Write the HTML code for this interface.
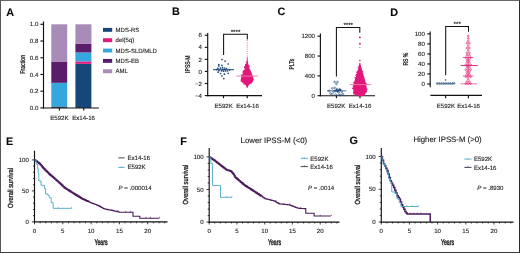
<!DOCTYPE html>
<html><head><meta charset="utf-8"><style>
html,body{margin:0;padding:0;background:#fff;}
body{width:520px;height:253px;overflow:hidden;position:relative;}
svg{display:block;font-family:"Liberation Sans", sans-serif;filter:blur(0.35px);text-rendering:geometricPrecision;}
text{stroke:#1c1c1c;stroke-width:0.12px;}
.bd{position:absolute;left:0;top:0;width:518px;height:251px;border-style:solid;border-width:1px;border-color:#666 #2a2a2a #3a3a3a #555;}
</style></head><body>
<svg width="520" height="253" viewBox="0 0 520 253" font-family='"Liberation Sans", sans-serif'>
<rect x="0" y="0" width="520" height="253" fill="#fff"/>
<text x="6.30" y="15.60" font-size="10.8" text-anchor="start" font-weight="bold" fill="#0a0a0a" >A</text>
<rect x="51.30" y="106.40" width="15.90" height="1.50" fill="#17477a"/>
<rect x="51.30" y="82.82" width="15.90" height="23.58" fill="#35a7df"/>
<rect x="51.30" y="61.50" width="15.90" height="21.32" fill="#5b1d6b"/>
<rect x="51.30" y="24.30" width="15.90" height="37.20" fill="#a98bb9"/>
<rect x="75.40" y="63.80" width="16.00" height="44.10" fill="#17477a"/>
<rect x="75.40" y="61.42" width="16.00" height="2.38" fill="#e2177c"/>
<rect x="75.40" y="52.47" width="16.00" height="8.95" fill="#35a7df"/>
<rect x="75.40" y="43.61" width="16.00" height="8.86" fill="#5b1d6b"/>
<rect x="75.40" y="24.30" width="16.00" height="19.31" fill="#a98bb9"/>
<line x1="43.50" y1="21.50" x2="43.50" y2="108.48" stroke="#111" stroke-width="1.15"/>
<line x1="40.40" y1="107.90" x2="43.50" y2="107.90" stroke="#111" stroke-width="1.15"/>
<text x="38.30" y="110.05" font-size="6.1" text-anchor="end" font-weight="normal" fill="#1c1c1c" >0.0</text>
<line x1="40.40" y1="91.18" x2="43.50" y2="91.18" stroke="#111" stroke-width="1.15"/>
<text x="38.30" y="93.33" font-size="6.1" text-anchor="end" font-weight="normal" fill="#1c1c1c" >0.2</text>
<line x1="40.40" y1="74.46" x2="43.50" y2="74.46" stroke="#111" stroke-width="1.15"/>
<text x="38.30" y="76.61" font-size="6.1" text-anchor="end" font-weight="normal" fill="#1c1c1c" >0.4</text>
<line x1="40.40" y1="57.74" x2="43.50" y2="57.74" stroke="#111" stroke-width="1.15"/>
<text x="38.30" y="59.89" font-size="6.1" text-anchor="end" font-weight="normal" fill="#1c1c1c" >0.6</text>
<line x1="40.40" y1="41.02" x2="43.50" y2="41.02" stroke="#111" stroke-width="1.15"/>
<text x="38.30" y="43.17" font-size="6.1" text-anchor="end" font-weight="normal" fill="#1c1c1c" >0.8</text>
<line x1="40.40" y1="24.30" x2="43.50" y2="24.30" stroke="#111" stroke-width="1.15"/>
<text x="38.30" y="26.45" font-size="6.1" text-anchor="end" font-weight="normal" fill="#1c1c1c" >1.0</text>
<line x1="43.00" y1="107.95" x2="98.90" y2="107.95" stroke="#111" stroke-width="1.15"/>
<line x1="59.40" y1="107.90" x2="59.40" y2="110.50" stroke="#111" stroke-width="1.15"/>
<line x1="83.75" y1="107.90" x2="83.75" y2="110.50" stroke="#111" stroke-width="1.15"/>
<text x="59.40" y="119.60" font-size="6.1" text-anchor="middle" font-weight="normal" fill="#1c1c1c" >E592K</text>
<text x="83.60" y="119.60" font-size="6.1" text-anchor="middle" font-weight="normal" fill="#1c1c1c" >Ex14-16</text>
<text transform="translate(22.10,64.30) rotate(-90) scale(0.74,1)" x="0" y="2.52" font-size="7.0" text-anchor="middle" fill="#1c1c1c" style="stroke-width:0.3px">Fraction</text>
<rect x="103.00" y="27.90" width="9.20" height="3.90" fill="#17477a"/>
<text x="115.60" y="31.95" font-size="6.0" text-anchor="start" font-weight="normal" fill="#1c1c1c" >MDS-RS</text>
<rect x="103.00" y="38.25" width="9.20" height="3.90" fill="#e2177c"/>
<text x="115.60" y="42.30" font-size="6.0" text-anchor="start" font-weight="normal" fill="#1c1c1c" >del(5q)</text>
<rect x="103.00" y="48.60" width="9.20" height="3.90" fill="#35a7df"/>
<text x="115.60" y="52.65" font-size="6.0" text-anchor="start" font-weight="normal" fill="#1c1c1c" >MDS-SLD/MLD</text>
<rect x="103.00" y="58.95" width="9.20" height="3.90" fill="#5b1d6b"/>
<text x="115.60" y="63.00" font-size="6.0" text-anchor="start" font-weight="normal" fill="#1c1c1c" >MDS-EB</text>
<rect x="103.00" y="69.30" width="9.20" height="3.90" fill="#a98bb9"/>
<text x="115.60" y="73.35" font-size="6.0" text-anchor="start" font-weight="normal" fill="#1c1c1c" >AML</text>
<text x="171.90" y="15.40" font-size="10.8" text-anchor="start" font-weight="bold" fill="#0a0a0a" >B</text>
<line x1="207.70" y1="33.00" x2="207.70" y2="96.17" stroke="#111" stroke-width="1.15"/>
<line x1="204.80" y1="35.27" x2="207.70" y2="35.27" stroke="#111" stroke-width="1.15"/>
<text x="201.90" y="37.42" font-size="6.1" text-anchor="end" font-weight="normal" fill="#1c1c1c" >6</text>
<line x1="204.80" y1="47.33" x2="207.70" y2="47.33" stroke="#111" stroke-width="1.15"/>
<text x="201.90" y="49.48" font-size="6.1" text-anchor="end" font-weight="normal" fill="#1c1c1c" >4</text>
<line x1="204.80" y1="59.39" x2="207.70" y2="59.39" stroke="#111" stroke-width="1.15"/>
<text x="201.90" y="61.54" font-size="6.1" text-anchor="end" font-weight="normal" fill="#1c1c1c" >2</text>
<line x1="204.80" y1="71.45" x2="207.70" y2="71.45" stroke="#111" stroke-width="1.15"/>
<text x="201.90" y="73.60" font-size="6.1" text-anchor="end" font-weight="normal" fill="#1c1c1c" >0</text>
<line x1="204.80" y1="83.51" x2="207.70" y2="83.51" stroke="#111" stroke-width="1.15"/>
<text x="201.90" y="85.66" font-size="6.1" text-anchor="end" font-weight="normal" fill="#1c1c1c" >−2</text>
<line x1="204.80" y1="95.57" x2="207.70" y2="95.57" stroke="#111" stroke-width="1.15"/>
<text x="201.90" y="97.72" font-size="6.1" text-anchor="end" font-weight="normal" fill="#1c1c1c" >−4</text>
<line x1="207.20" y1="95.60" x2="262.00" y2="95.60" stroke="#111" stroke-width="1.15"/>
<line x1="223.50" y1="95.60" x2="223.50" y2="98.20" stroke="#111" stroke-width="1.15"/>
<line x1="247.20" y1="95.60" x2="247.20" y2="98.20" stroke="#111" stroke-width="1.15"/>
<text x="223.60" y="107.60" font-size="6.1" text-anchor="middle" font-weight="normal" fill="#1c1c1c" >E592K</text>
<text x="247.50" y="107.60" font-size="6.1" text-anchor="middle" font-weight="normal" fill="#1c1c1c" >Ex14-16</text>
<text transform="translate(187.00,64.20) rotate(-90) scale(0.72,1)" x="0" y="2.52" font-size="7.0" text-anchor="middle" fill="#1c1c1c" style="stroke-width:0.3px">IPSS-M</text>
<path d="M223.6,55.0 V34.3 H247.3 V39.5" stroke="#111" stroke-width="1.05" fill="none" />
<text x="235.50" y="33.60" font-size="6.2" text-anchor="middle" font-weight="normal" fill="#1c1c1c" >****</text>
<circle cx="221.9" cy="59.6" r="0.85" fill="#1a4576"/>
<circle cx="225.1" cy="61.1" r="0.85" fill="#1a4576"/>
<circle cx="228.2" cy="64.0" r="0.85" fill="#1a4576"/>
<circle cx="218.8" cy="64.6" r="0.85" fill="#1a4576"/>
<circle cx="218.8" cy="65.9" r="0.85" fill="#1a4576"/>
<circle cx="222.0" cy="65.4" r="0.85" fill="#1a4576"/>
<circle cx="218.1" cy="72.2" r="0.85" fill="#1a4576"/>
<circle cx="220.6" cy="73.5" r="0.85" fill="#1a4576"/>
<circle cx="224.4" cy="74.2" r="0.85" fill="#1a4576"/>
<circle cx="228.2" cy="73.3" r="0.85" fill="#1a4576"/>
<circle cx="221.9" cy="76.0" r="0.85" fill="#1a4576"/>
<circle cx="223.8" cy="78.6" r="0.85" fill="#1a4576"/>
<circle cx="220.5" cy="68.2" r="0.85" fill="#1a4576"/>
<circle cx="222.5" cy="67.6" r="0.85" fill="#1a4576"/>
<circle cx="224.5" cy="68.0" r="0.85" fill="#1a4576"/>
<circle cx="226.5" cy="68.6" r="0.85" fill="#1a4576"/>
<circle cx="221.5" cy="70.8" r="0.85" fill="#1a4576"/>
<circle cx="223.5" cy="71.2" r="0.85" fill="#1a4576"/>
<circle cx="225.5" cy="70.8" r="0.85" fill="#1a4576"/>
<circle cx="227.5" cy="71.0" r="0.85" fill="#1a4576"/>
<circle cx="219.0" cy="70.6" r="0.85" fill="#1a4576"/>
<circle cx="229.5" cy="70.0" r="0.85" fill="#1a4576"/>
<circle cx="216.5" cy="69.6" r="0.85" fill="#1a4576"/>
<circle cx="223.0" cy="69.4" r="0.85" fill="#1a4576"/>
<circle cx="225.0" cy="69.5" r="0.85" fill="#1a4576"/>
<circle cx="218.0" cy="68.4" r="0.85" fill="#1a4576"/>
<line x1="213.00" y1="69.70" x2="234.00" y2="69.70" stroke="#1a4576" stroke-width="1.0"/>
<path d="M246.85,57.00 L246.60,62.00 L245.90,64.50 L244.80,68.60 L243.20,72.80 L241.60,76.10 L240.70,79.40 L241.80,82.20 L244.40,84.00 L246.00,85.50 L246.70,87.70 L247.70,87.70 L248.40,85.50 L250.00,84.00 L252.60,82.20 L253.70,79.40 L252.80,76.10 L251.20,72.80 L249.60,68.60 L248.50,64.50 L247.80,62.00 L247.55,57.00 Z" stroke="none" stroke-width="0" fill="#e2177c" />
<circle cx="251.15" cy="72.88" r="0.7" fill="#e2177c"/>
<circle cx="245.43" cy="66.37" r="0.7" fill="#e2177c"/>
<circle cx="243.19" cy="72.90" r="0.7" fill="#e2177c"/>
<circle cx="244.12" cy="84.01" r="0.7" fill="#e2177c"/>
<circle cx="249.36" cy="65.98" r="0.7" fill="#e2177c"/>
<circle cx="243.64" cy="71.93" r="0.7" fill="#e2177c"/>
<circle cx="245.55" cy="64.61" r="0.7" fill="#e2177c"/>
<circle cx="243.44" cy="71.02" r="0.7" fill="#e2177c"/>
<circle cx="245.00" cy="66.82" r="0.7" fill="#e2177c"/>
<circle cx="243.22" cy="71.91" r="0.7" fill="#e2177c"/>
<circle cx="250.77" cy="83.42" r="0.7" fill="#e2177c"/>
<circle cx="241.07" cy="81.02" r="0.7" fill="#e2177c"/>
<circle cx="247.58" cy="62.12" r="0.7" fill="#e2177c"/>
<circle cx="250.29" cy="70.90" r="0.7" fill="#e2177c"/>
<circle cx="244.61" cy="67.56" r="0.7" fill="#e2177c"/>
<circle cx="246.16" cy="62.09" r="0.7" fill="#e2177c"/>
<circle cx="244.88" cy="66.77" r="0.7" fill="#e2177c"/>
<circle cx="245.63" cy="65.13" r="0.7" fill="#e2177c"/>
<circle cx="241.87" cy="75.46" r="0.7" fill="#e2177c"/>
<circle cx="243.49" cy="71.36" r="0.7" fill="#e2177c"/>
<circle cx="245.91" cy="65.42" r="0.7" fill="#e2177c"/>
<circle cx="241.82" cy="75.04" r="0.7" fill="#e2177c"/>
<circle cx="247.20" cy="40.5" r="0.5" fill="#e2177c" opacity="0.8"/>
<circle cx="247.20" cy="42.7" r="0.5" fill="#e2177c" opacity="0.8"/>
<circle cx="247.20" cy="44.9" r="0.5" fill="#e2177c" opacity="0.8"/>
<circle cx="247.20" cy="47.1" r="0.5" fill="#e2177c" opacity="0.8"/>
<circle cx="247.20" cy="49.3" r="0.5" fill="#e2177c" opacity="0.8"/>
<circle cx="247.20" cy="51.5" r="0.5" fill="#e2177c" opacity="0.8"/>
<circle cx="247.20" cy="53.7" r="0.5" fill="#e2177c" opacity="0.8"/>
<circle cx="247.20" cy="55.9" r="0.5" fill="#e2177c" opacity="0.8"/>
<line x1="236.50" y1="76.10" x2="258.00" y2="76.10" stroke="#f07aa8" stroke-width="0.9"/>
<text x="277.60" y="15.40" font-size="10.8" text-anchor="start" font-weight="bold" fill="#0a0a0a" >C</text>
<line x1="320.40" y1="33.40" x2="320.40" y2="96.28" stroke="#111" stroke-width="1.15"/>
<line x1="317.50" y1="95.70" x2="320.40" y2="95.70" stroke="#111" stroke-width="1.15"/>
<text x="315.00" y="97.85" font-size="6.1" text-anchor="end" font-weight="normal" fill="#1c1c1c" >0</text>
<line x1="317.50" y1="75.87" x2="320.40" y2="75.87" stroke="#111" stroke-width="1.15"/>
<text x="315.00" y="78.02" font-size="6.1" text-anchor="end" font-weight="normal" fill="#1c1c1c" >400</text>
<line x1="317.50" y1="56.03" x2="320.40" y2="56.03" stroke="#111" stroke-width="1.15"/>
<text x="315.00" y="58.18" font-size="6.1" text-anchor="end" font-weight="normal" fill="#1c1c1c" >800</text>
<line x1="317.50" y1="36.20" x2="320.40" y2="36.20" stroke="#111" stroke-width="1.15"/>
<text x="315.00" y="38.35" font-size="6.1" text-anchor="end" font-weight="normal" fill="#1c1c1c" >1200</text>
<line x1="319.90" y1="95.70" x2="375.00" y2="95.70" stroke="#111" stroke-width="1.15"/>
<line x1="336.40" y1="95.70" x2="336.40" y2="98.30" stroke="#111" stroke-width="1.15"/>
<line x1="360.00" y1="95.70" x2="360.00" y2="98.30" stroke="#111" stroke-width="1.15"/>
<text x="336.10" y="107.70" font-size="6.1" text-anchor="middle" font-weight="normal" fill="#1c1c1c" >E592K</text>
<text x="360.00" y="107.70" font-size="6.1" text-anchor="middle" font-weight="normal" fill="#1c1c1c" >Ex14-16</text>
<text transform="translate(291.20,64.20) rotate(-90) scale(0.72,1)" x="0" y="2.52" font-size="7.0" text-anchor="middle" fill="#1c1c1c" style="stroke-width:0.3px">PLTs</text>
<path d="M336.4,76.5 V27.5 H359.8 V32.8" stroke="#111" stroke-width="1.05" fill="none" />
<text x="348.20" y="26.90" font-size="6.2" text-anchor="middle" font-weight="normal" fill="#1c1c1c" >****</text>
<circle cx="334.6" cy="81.9" r="0.85" fill="none" stroke="#1a4576" stroke-width="0.6"/>
<circle cx="337.5" cy="81.9" r="0.85" fill="none" stroke="#1a4576" stroke-width="0.6"/>
<circle cx="336.4" cy="84" r="0.85" fill="none" stroke="#1a4576" stroke-width="0.6"/>
<circle cx="332.2" cy="88.4" r="0.85" fill="none" stroke="#1a4576" stroke-width="0.6"/>
<circle cx="334.6" cy="87.8" r="0.85" fill="none" stroke="#1a4576" stroke-width="0.6"/>
<circle cx="337" cy="89" r="0.85" fill="none" stroke="#1a4576" stroke-width="0.6"/>
<circle cx="339.9" cy="89.6" r="0.85" fill="none" stroke="#1a4576" stroke-width="0.6"/>
<circle cx="329.3" cy="90.8" r="0.85" fill="none" stroke="#1a4576" stroke-width="0.6"/>
<circle cx="333.5" cy="91.9" r="0.85" fill="none" stroke="#1a4576" stroke-width="0.6"/>
<circle cx="336" cy="91.2" r="0.85" fill="none" stroke="#1a4576" stroke-width="0.6"/>
<circle cx="338.7" cy="92.3" r="0.85" fill="none" stroke="#1a4576" stroke-width="0.6"/>
<circle cx="341.7" cy="91.9" r="0.85" fill="none" stroke="#1a4576" stroke-width="0.6"/>
<circle cx="342.9" cy="94.3" r="0.85" fill="none" stroke="#1a4576" stroke-width="0.6"/>
<circle cx="332.2" cy="94.3" r="0.85" fill="none" stroke="#1a4576" stroke-width="0.6"/>
<circle cx="335.6" cy="94.7" r="0.85" fill="none" stroke="#1a4576" stroke-width="0.6"/>
<circle cx="338.7" cy="94.7" r="0.85" fill="none" stroke="#1a4576" stroke-width="0.6"/>
<circle cx="330.5" cy="93.5" r="0.85" fill="none" stroke="#1a4576" stroke-width="0.6"/>
<circle cx="340.5" cy="95" r="0.85" fill="none" stroke="#1a4576" stroke-width="0.6"/>
<line x1="326.90" y1="90.80" x2="346.40" y2="90.80" stroke="#1a4576" stroke-width="0.7"/>
<circle cx="336.5" cy="90.0" r="0.9" fill="#1a4576"/>
<circle cx="338.5" cy="90.4" r="0.9" fill="#1a4576"/>
<circle cx="340.5" cy="90.2" r="0.9" fill="#1a4576"/>
<circle cx="335.0" cy="90.6" r="0.9" fill="#1a4576"/>
<circle cx="337.5" cy="91.3" r="0.9" fill="#1a4576"/>
<circle cx="339.5" cy="89.4" r="0.9" fill="#1a4576"/>
<path d="M359.50,62.70 L358.90,66.00 L358.00,69.60 L356.50,74.60 L354.90,79.60 L353.50,84.60 L353.10,89.00 L353.60,92.50 L355.10,95.00 L357.50,96.20 L362.30,96.20 L364.70,95.00 L366.20,92.50 L366.70,89.00 L366.30,84.60 L364.90,79.60 L363.30,74.60 L361.80,69.60 L360.90,66.00 L360.30,62.70 Z" stroke="none" stroke-width="0" fill="#e2177c" />
<circle cx="366.49" cy="84.06" r="0.7" fill="#e2177c"/>
<circle cx="353.73" cy="93.33" r="0.7" fill="#e2177c"/>
<circle cx="352.93" cy="88.50" r="0.7" fill="#e2177c"/>
<circle cx="353.55" cy="92.13" r="0.7" fill="#e2177c"/>
<circle cx="366.52" cy="91.18" r="0.7" fill="#e2177c"/>
<circle cx="353.76" cy="82.64" r="0.7" fill="#e2177c"/>
<circle cx="355.03" cy="77.84" r="0.7" fill="#e2177c"/>
<circle cx="352.86" cy="88.21" r="0.7" fill="#e2177c"/>
<circle cx="361.22" cy="68.09" r="0.7" fill="#e2177c"/>
<circle cx="359.02" cy="66.05" r="0.7" fill="#e2177c"/>
<circle cx="356.81" cy="72.25" r="0.7" fill="#e2177c"/>
<circle cx="356.43" cy="74.39" r="0.7" fill="#e2177c"/>
<circle cx="353.56" cy="85.66" r="0.7" fill="#e2177c"/>
<circle cx="354.08" cy="94.09" r="0.7" fill="#e2177c"/>
<circle cx="366.00" cy="91.92" r="0.7" fill="#e2177c"/>
<circle cx="355.49" cy="78.03" r="0.7" fill="#e2177c"/>
<circle cx="356.00" cy="75.62" r="0.7" fill="#e2177c"/>
<circle cx="353.38" cy="86.52" r="0.7" fill="#e2177c"/>
<circle cx="366.85" cy="89.74" r="0.7" fill="#e2177c"/>
<circle cx="362.59" cy="71.36" r="0.7" fill="#e2177c"/>
<circle cx="358.03" cy="67.65" r="0.7" fill="#e2177c"/>
<circle cx="363.58" cy="76.37" r="0.7" fill="#e2177c"/>
<circle cx="366.69" cy="88.84" r="0.7" fill="#e2177c"/>
<circle cx="366.24" cy="90.40" r="0.7" fill="#e2177c"/>
<circle cx="357.71" cy="71.25" r="0.7" fill="#e2177c"/>
<circle cx="362.84" cy="73.14" r="0.7" fill="#e2177c"/>
<circle cx="359.90" cy="37.4" r="0.95" fill="#e2177c"/>
<circle cx="359.90" cy="43.7" r="0.95" fill="#e2177c"/>
<circle cx="359.90" cy="47.6" r="0.5" fill="#e2177c"/>
<circle cx="359.90" cy="60.5" r="0.8" fill="#e2177c"/>
<line x1="349.70" y1="84.60" x2="371.20" y2="84.60" stroke="#f07aa8" stroke-width="0.9"/>
<text x="390.30" y="15.60" font-size="10.8" text-anchor="start" font-weight="bold" fill="#0a0a0a" >D</text>
<line x1="430.20" y1="31.50" x2="430.20" y2="87.17" stroke="#111" stroke-width="1.15"/>
<line x1="427.20" y1="84.00" x2="430.20" y2="84.00" stroke="#111" stroke-width="1.15"/>
<text x="424.80" y="86.15" font-size="6.1" text-anchor="end" font-weight="normal" fill="#1c1c1c" >0</text>
<line x1="427.20" y1="73.98" x2="430.20" y2="73.98" stroke="#111" stroke-width="1.15"/>
<text x="424.80" y="76.13" font-size="6.1" text-anchor="end" font-weight="normal" fill="#1c1c1c" >20</text>
<line x1="427.20" y1="63.96" x2="430.20" y2="63.96" stroke="#111" stroke-width="1.15"/>
<text x="424.80" y="66.11" font-size="6.1" text-anchor="end" font-weight="normal" fill="#1c1c1c" >40</text>
<line x1="427.20" y1="53.94" x2="430.20" y2="53.94" stroke="#111" stroke-width="1.15"/>
<text x="424.80" y="56.09" font-size="6.1" text-anchor="end" font-weight="normal" fill="#1c1c1c" >60</text>
<line x1="427.20" y1="43.92" x2="430.20" y2="43.92" stroke="#111" stroke-width="1.15"/>
<text x="424.80" y="46.07" font-size="6.1" text-anchor="end" font-weight="normal" fill="#1c1c1c" >80</text>
<line x1="427.20" y1="33.90" x2="430.20" y2="33.90" stroke="#111" stroke-width="1.15"/>
<text x="424.80" y="36.05" font-size="6.1" text-anchor="end" font-weight="normal" fill="#1c1c1c" >100</text>
<line x1="430.40" y1="95.30" x2="482.00" y2="95.30" stroke="#111" stroke-width="1.15"/>
<line x1="445.60" y1="95.30" x2="445.60" y2="98.20" stroke="#111" stroke-width="1.15"/>
<line x1="468.40" y1="95.30" x2="468.40" y2="98.20" stroke="#111" stroke-width="1.15"/>
<text x="445.90" y="107.70" font-size="6.1" text-anchor="middle" font-weight="normal" fill="#1c1c1c" >E592K</text>
<text x="468.60" y="107.70" font-size="6.1" text-anchor="middle" font-weight="normal" fill="#1c1c1c" >Ex14-16</text>
<text transform="translate(405.30,59.10) rotate(-90) scale(0.72,1)" x="0" y="2.52" font-size="7.0" text-anchor="middle" fill="#1c1c1c" style="stroke-width:0.3px">RS %</text>
<path d="M445.7,75.3 V26.4 H468.5 V31.8" stroke="#111" stroke-width="1.05" fill="none" />
<text x="457.20" y="26.10" font-size="6.2" text-anchor="middle" font-weight="normal" fill="#1c1c1c" >***</text>
<circle cx="437.2" cy="83.3" r="0.75" fill="none" stroke="#1a4576" stroke-width="0.6"/>
<circle cx="439.4" cy="83.3" r="0.75" fill="none" stroke="#1a4576" stroke-width="0.6"/>
<circle cx="441.6" cy="83.3" r="0.75" fill="none" stroke="#1a4576" stroke-width="0.6"/>
<circle cx="443.8" cy="83.3" r="0.75" fill="none" stroke="#1a4576" stroke-width="0.6"/>
<circle cx="446" cy="83.3" r="0.75" fill="none" stroke="#1a4576" stroke-width="0.6"/>
<circle cx="448.2" cy="83.3" r="0.75" fill="none" stroke="#1a4576" stroke-width="0.6"/>
<circle cx="450.4" cy="83.3" r="0.75" fill="none" stroke="#1a4576" stroke-width="0.6"/>
<circle cx="452.6" cy="83.3" r="0.75" fill="none" stroke="#1a4576" stroke-width="0.6"/>
<circle cx="454.2" cy="83.3" r="0.75" fill="none" stroke="#1a4576" stroke-width="0.6"/>
<circle cx="445.6" cy="80.0" r="0.7" fill="#1a4576"/>
<line x1="436.30" y1="83.90" x2="454.50" y2="83.90" stroke="#1a4576" stroke-width="0.7"/>
<circle cx="468.20" cy="36.00" r="0.85" fill="none" stroke="#e2266f" stroke-width="0.7"/>
<circle cx="468.20" cy="38.40" r="0.85" fill="none" stroke="#e2266f" stroke-width="0.7"/>
<circle cx="468.20" cy="40.80" r="0.85" fill="none" stroke="#e2266f" stroke-width="0.7"/>
<circle cx="467.00" cy="43.20" r="0.85" fill="none" stroke="#e2266f" stroke-width="0.7"/>
<circle cx="469.40" cy="43.20" r="0.85" fill="none" stroke="#e2266f" stroke-width="0.7"/>
<circle cx="468.20" cy="45.60" r="0.85" fill="none" stroke="#e2266f" stroke-width="0.7"/>
<circle cx="467.00" cy="48.00" r="0.85" fill="none" stroke="#e2266f" stroke-width="0.7"/>
<circle cx="469.40" cy="48.00" r="0.85" fill="none" stroke="#e2266f" stroke-width="0.7"/>
<circle cx="468.20" cy="50.40" r="0.85" fill="none" stroke="#e2266f" stroke-width="0.7"/>
<circle cx="467.00" cy="52.80" r="0.85" fill="none" stroke="#e2266f" stroke-width="0.7"/>
<circle cx="469.40" cy="52.80" r="0.85" fill="none" stroke="#e2266f" stroke-width="0.7"/>
<circle cx="467.00" cy="55.20" r="0.85" fill="none" stroke="#e2266f" stroke-width="0.7"/>
<circle cx="469.40" cy="55.20" r="0.85" fill="none" stroke="#e2266f" stroke-width="0.7"/>
<circle cx="465.80" cy="57.60" r="0.85" fill="none" stroke="#e2266f" stroke-width="0.7"/>
<circle cx="468.20" cy="57.60" r="0.85" fill="none" stroke="#e2266f" stroke-width="0.7"/>
<circle cx="470.60" cy="57.60" r="0.85" fill="none" stroke="#e2266f" stroke-width="0.7"/>
<circle cx="467.00" cy="60.00" r="0.85" fill="none" stroke="#e2266f" stroke-width="0.7"/>
<circle cx="469.40" cy="60.00" r="0.85" fill="none" stroke="#e2266f" stroke-width="0.7"/>
<circle cx="467.00" cy="62.40" r="0.85" fill="none" stroke="#e2266f" stroke-width="0.7"/>
<circle cx="469.40" cy="62.40" r="0.85" fill="none" stroke="#e2266f" stroke-width="0.7"/>
<circle cx="465.80" cy="64.80" r="0.85" fill="none" stroke="#e2266f" stroke-width="0.7"/>
<circle cx="468.20" cy="64.80" r="0.85" fill="none" stroke="#e2266f" stroke-width="0.7"/>
<circle cx="470.60" cy="64.80" r="0.85" fill="none" stroke="#e2266f" stroke-width="0.7"/>
<circle cx="467.00" cy="67.20" r="0.85" fill="none" stroke="#e2266f" stroke-width="0.7"/>
<circle cx="469.40" cy="67.20" r="0.85" fill="none" stroke="#e2266f" stroke-width="0.7"/>
<circle cx="465.80" cy="69.60" r="0.85" fill="none" stroke="#e2266f" stroke-width="0.7"/>
<circle cx="468.20" cy="69.60" r="0.85" fill="none" stroke="#e2266f" stroke-width="0.7"/>
<circle cx="470.60" cy="69.60" r="0.85" fill="none" stroke="#e2266f" stroke-width="0.7"/>
<circle cx="467.00" cy="72.00" r="0.85" fill="none" stroke="#e2266f" stroke-width="0.7"/>
<circle cx="469.40" cy="72.00" r="0.85" fill="none" stroke="#e2266f" stroke-width="0.7"/>
<circle cx="467.00" cy="74.40" r="0.85" fill="none" stroke="#e2266f" stroke-width="0.7"/>
<circle cx="469.40" cy="74.40" r="0.85" fill="none" stroke="#e2266f" stroke-width="0.7"/>
<circle cx="465.80" cy="76.80" r="0.85" fill="none" stroke="#e2266f" stroke-width="0.7"/>
<circle cx="468.20" cy="76.80" r="0.85" fill="none" stroke="#e2266f" stroke-width="0.7"/>
<circle cx="470.60" cy="76.80" r="0.85" fill="none" stroke="#e2266f" stroke-width="0.7"/>
<circle cx="468.20" cy="79.20" r="0.85" fill="none" stroke="#e2266f" stroke-width="0.7"/>
<circle cx="467.00" cy="81.60" r="0.85" fill="none" stroke="#e2266f" stroke-width="0.7"/>
<circle cx="469.40" cy="81.60" r="0.85" fill="none" stroke="#e2266f" stroke-width="0.7"/>
<circle cx="465.80" cy="83.60" r="0.85" fill="none" stroke="#e2266f" stroke-width="0.7"/>
<circle cx="468.20" cy="83.60" r="0.85" fill="none" stroke="#e2266f" stroke-width="0.7"/>
<circle cx="470.60" cy="83.60" r="0.85" fill="none" stroke="#e2266f" stroke-width="0.7"/>
<line x1="460.60" y1="65.50" x2="477.90" y2="65.50" stroke="#e2177c" stroke-width="0.9"/>
<line x1="462.90" y1="57.50" x2="473.50" y2="57.50" stroke="#e2177c" stroke-width="0.7"/>
<line x1="462.90" y1="75.90" x2="473.50" y2="75.90" stroke="#e2177c" stroke-width="0.7"/>
<line x1="468.20" y1="57.50" x2="468.20" y2="75.90" stroke="#e2177c" stroke-width="0.6"/>
<line x1="460.60" y1="83.80" x2="477.00" y2="83.80" stroke="#e2177c" stroke-width="0.6"/>
<text x="5.90" y="144.70" font-size="10.8" text-anchor="start" font-weight="bold" fill="#0a0a0a" >E</text>
<line x1="34.50" y1="150.70" x2="34.50" y2="222.47" stroke="#111" stroke-width="1.15"/>
<line x1="33.92" y1="221.90" x2="167.50" y2="221.90" stroke="#111" stroke-width="1.15"/>
<line x1="31.90" y1="221.90" x2="34.50" y2="221.90" stroke="#111" stroke-width="0.8"/>
<line x1="33.00" y1="215.70" x2="34.50" y2="215.70" stroke="#111" stroke-width="0.8"/>
<line x1="33.00" y1="209.50" x2="34.50" y2="209.50" stroke="#111" stroke-width="0.8"/>
<line x1="33.00" y1="203.30" x2="34.50" y2="203.30" stroke="#111" stroke-width="0.8"/>
<line x1="33.00" y1="197.10" x2="34.50" y2="197.10" stroke="#111" stroke-width="0.8"/>
<line x1="31.90" y1="190.90" x2="34.50" y2="190.90" stroke="#111" stroke-width="0.8"/>
<line x1="33.00" y1="184.70" x2="34.50" y2="184.70" stroke="#111" stroke-width="0.8"/>
<line x1="33.00" y1="178.50" x2="34.50" y2="178.50" stroke="#111" stroke-width="0.8"/>
<line x1="33.00" y1="172.30" x2="34.50" y2="172.30" stroke="#111" stroke-width="0.8"/>
<line x1="33.00" y1="166.10" x2="34.50" y2="166.10" stroke="#111" stroke-width="0.8"/>
<line x1="31.90" y1="159.90" x2="34.50" y2="159.90" stroke="#111" stroke-width="0.8"/>
<text x="28.90" y="162.05" font-size="6.1" text-anchor="end" font-weight="normal" fill="#1c1c1c" >100</text>
<text x="28.90" y="193.05" font-size="6.1" text-anchor="end" font-weight="normal" fill="#1c1c1c" >50</text>
<text x="28.90" y="224.05" font-size="6.1" text-anchor="end" font-weight="normal" fill="#1c1c1c" >0</text>
<line x1="34.50" y1="221.90" x2="34.50" y2="224.30" stroke="#111" stroke-width="0.8"/>
<text x="34.50" y="233.20" font-size="6.1" text-anchor="middle" font-weight="normal" fill="#1c1c1c" >0</text>
<line x1="40.16" y1="221.90" x2="40.16" y2="223.30" stroke="#111" stroke-width="0.8"/>
<line x1="45.82" y1="221.90" x2="45.82" y2="223.30" stroke="#111" stroke-width="0.8"/>
<line x1="51.48" y1="221.90" x2="51.48" y2="223.30" stroke="#111" stroke-width="0.8"/>
<line x1="57.14" y1="221.90" x2="57.14" y2="223.30" stroke="#111" stroke-width="0.8"/>
<line x1="62.80" y1="221.90" x2="62.80" y2="224.30" stroke="#111" stroke-width="0.8"/>
<text x="62.80" y="233.20" font-size="6.1" text-anchor="middle" font-weight="normal" fill="#1c1c1c" >5</text>
<line x1="68.46" y1="221.90" x2="68.46" y2="223.30" stroke="#111" stroke-width="0.8"/>
<line x1="74.12" y1="221.90" x2="74.12" y2="223.30" stroke="#111" stroke-width="0.8"/>
<line x1="79.78" y1="221.90" x2="79.78" y2="223.30" stroke="#111" stroke-width="0.8"/>
<line x1="85.44" y1="221.90" x2="85.44" y2="223.30" stroke="#111" stroke-width="0.8"/>
<line x1="91.10" y1="221.90" x2="91.10" y2="224.30" stroke="#111" stroke-width="0.8"/>
<text x="91.10" y="233.20" font-size="6.1" text-anchor="middle" font-weight="normal" fill="#1c1c1c" >10</text>
<line x1="96.76" y1="221.90" x2="96.76" y2="223.30" stroke="#111" stroke-width="0.8"/>
<line x1="102.42" y1="221.90" x2="102.42" y2="223.30" stroke="#111" stroke-width="0.8"/>
<line x1="108.08" y1="221.90" x2="108.08" y2="223.30" stroke="#111" stroke-width="0.8"/>
<line x1="113.74" y1="221.90" x2="113.74" y2="223.30" stroke="#111" stroke-width="0.8"/>
<line x1="119.40" y1="221.90" x2="119.40" y2="224.30" stroke="#111" stroke-width="0.8"/>
<text x="119.40" y="233.20" font-size="6.1" text-anchor="middle" font-weight="normal" fill="#1c1c1c" >15</text>
<line x1="125.06" y1="221.90" x2="125.06" y2="223.30" stroke="#111" stroke-width="0.8"/>
<line x1="130.72" y1="221.90" x2="130.72" y2="223.30" stroke="#111" stroke-width="0.8"/>
<line x1="136.38" y1="221.90" x2="136.38" y2="223.30" stroke="#111" stroke-width="0.8"/>
<line x1="142.04" y1="221.90" x2="142.04" y2="223.30" stroke="#111" stroke-width="0.8"/>
<line x1="147.70" y1="221.90" x2="147.70" y2="224.30" stroke="#111" stroke-width="0.8"/>
<text x="147.70" y="233.20" font-size="6.1" text-anchor="middle" font-weight="normal" fill="#1c1c1c" >20</text>
<line x1="153.36" y1="221.90" x2="153.36" y2="223.30" stroke="#111" stroke-width="0.8"/>
<line x1="159.02" y1="221.90" x2="159.02" y2="223.30" stroke="#111" stroke-width="0.8"/>
<line x1="164.68" y1="221.90" x2="164.68" y2="223.30" stroke="#111" stroke-width="0.8"/>
<text transform="translate(101.00,244.70) scale(0.63,1)" x="0" y="0" font-size="8.3" text-anchor="middle" fill="#1c1c1c" style="stroke-width:0.4px">Years</text>
<text transform="translate(10.20,188.00) rotate(-90) scale(0.79,1)" x="0" y="2.66" font-size="7.4" text-anchor="middle" fill="#1c1c1c" style="stroke-width:0.3px">Overall survival</text>
<path d="M34.50,159.90 H35.35 V160.48 H36.20 V161.06 H37.05 V161.69 H37.90 V162.43 H38.74 V163.16 H39.59 V163.90 H40.44 V164.79 H41.29 V165.81 H42.14 V166.83 H42.99 V167.85 H43.84 V168.78 H44.69 V169.63 H45.54 V170.47 H46.39 V171.32 H47.23 V172.16 H48.08 V173.01 H48.93 V173.86 H49.78 V174.60 H50.63 V175.34 H51.48 V176.07 H52.33 V176.81 H53.18 V177.55 H54.03 V178.28 H54.88 V179.02 H55.72 V179.76 H56.57 V180.50 H57.42 V181.24 H58.27 V181.98 H59.12 V182.72 H59.97 V183.46 H60.82 V184.30 H61.67 V185.14 H62.52 V185.98 H63.37 V186.82 H64.22 V187.62 H65.06 V188.17 H65.91 V188.71 H66.76 V189.25 H67.61 V189.79 H68.46 V190.33 H69.31 V190.87 H70.16 V191.41 H71.01 V191.96 H71.86 V192.50 H72.71 V193.04 H73.55 V193.56 H74.40 V194.08 H75.25 V194.59 H76.10 V195.11 H76.95 V195.62 H77.80 V196.14 H78.65 V196.65 H79.50 V197.17 H80.35 V197.68 H81.20 V198.20 H82.04 V198.71 H82.89 V199.11 H83.74 V199.51 H84.59 V199.91 H85.44 V200.31 H86.29 V200.71 H87.14 V201.11 H87.99 V201.51" stroke="#4a1a5b" stroke-width="1.6" fill="none" />
<path d="M87.99,201.51 H88.84 V201.91 H89.69 V202.31 H90.53 V202.71 H91.38 V203.07 H92.23 V203.36 H93.08 V203.66 H93.93 V203.95 H94.78 V204.25 H95.63 V204.54 H96.48 V204.94 H97.33 V205.35 H98.18 V205.75 H99.02 V206.15 H99.87 V206.61 H100.72 V207.06 H101.57 V207.52 H102.42 V207.97 H103.27 V208.43 H104.12 V208.88 H104.97 V209.06 H105.82 V209.23 H106.67 V209.41 H107.51 V209.58 H108.36 V209.76 H109.21 V209.93 H110.06 V210.11 H110.91 V210.29 H111.76 V210.46 H112.61 V210.64 H113.46 V210.81 H114.31 V210.99 H115.16 V211.19 H116.00 V211.40 H116.85 V211.61 H117.70 V211.81 H118.55 V212.02 H119.40 V212.23 H120.25 V212.23 H121.10 V212.23 H121.95 V212.23 H122.80 V212.23 H123.65 V212.23 H124.49 V212.23 H125.34 V212.23 H126.19 V212.23 H127.04 V212.23 H127.89 V212.23 H128.74 V212.23 H129.59 V212.23 H130.44 V212.23 H131.29 V212.23 H132.14 V212.23 H132.98 V216.32 H133.83 V216.32 H134.68 V216.32 H135.53 V216.32 H136.38 V216.32 H137.23 V216.32 H138.08 V216.32 H138.93 V216.32 H139.78 V218.18 H140.62 V218.18 H141.47 V218.18 H142.32 V218.18 H143.17 V218.18 H144.02 V218.18 H144.87 V218.18 H145.72 V218.18 H146.57 V218.18 H147.42 V218.18 H148.27 V218.18 H149.11 V218.18 H149.96 V218.18 H150.81 V218.18 H151.66 V218.18 H152.51 V218.18 H153.36 V218.18 H154.21 V218.18 H155.06 V218.18 H155.91 V218.18 H156.76 V218.18 H157.60 V218.18 H158.45 V218.18 H159.30 V218.18" stroke="#4a1a5b" stroke-width="1.1" fill="none" />
<line x1="79.78" y1="197.17" x2="79.78" y2="195.77" stroke="#4a1a5b" stroke-width="0.6"/>
<line x1="88.27" y1="201.51" x2="88.27" y2="200.11" stroke="#4a1a5b" stroke-width="0.6"/>
<line x1="100.16" y1="206.61" x2="100.16" y2="205.21" stroke="#4a1a5b" stroke-width="0.6"/>
<line x1="112.04" y1="210.46" x2="112.04" y2="209.06" stroke="#4a1a5b" stroke-width="0.6"/>
<line x1="117.70" y1="211.61" x2="117.70" y2="210.21" stroke="#4a1a5b" stroke-width="0.6"/>
<line x1="125.63" y1="212.23" x2="125.63" y2="210.83" stroke="#4a1a5b" stroke-width="0.6"/>
<line x1="130.72" y1="212.23" x2="130.72" y2="210.83" stroke="#4a1a5b" stroke-width="0.6"/>
<line x1="146.00" y1="218.18" x2="146.00" y2="216.78" stroke="#4a1a5b" stroke-width="0.6"/>
<line x1="150.53" y1="218.18" x2="150.53" y2="216.78" stroke="#4a1a5b" stroke-width="0.6"/>
<line x1="159.59" y1="218.18" x2="159.59" y2="216.78" stroke="#4a1a5b" stroke-width="0.6"/>
<path d="M34.50,159.90 H36.20 V164.24 H37.61 V168.58 H38.18 V172.92 H38.80 V180.98 H41.07 V185.32 H44.46 V188.42 H45.59 V194.00 H47.91 V195.24 H49.22 V197.72 H51.20 V202.68 H53.18 V208.32 H71.57 V208.32" stroke="#47a6c6" stroke-width="0.9" fill="none" />
<line x1="58.27" y1="208.32" x2="58.27" y2="206.92" stroke="#47a6c6" stroke-width="0.6"/>
<line x1="71.57" y1="208.32" x2="71.57" y2="206.92" stroke="#47a6c6" stroke-width="0.6"/>
<line x1="118.30" y1="157.90" x2="124.70" y2="157.90" stroke="#3d2a48" stroke-width="0.9"/>
<text x="127.50" y="160.25" font-size="6.05" text-anchor="start" font-weight="normal" fill="#1c1c1c" >Ex14-16</text>
<line x1="118.30" y1="167.40" x2="124.70" y2="167.40" stroke="#47a6c6" stroke-width="0.9"/>
<line x1="121.50" y1="167.40" x2="121.50" y2="166.10" stroke="#47a6c6" stroke-width="0.6"/>
<text x="127.50" y="169.35" font-size="6.05" text-anchor="start" font-weight="normal" fill="#1c1c1c" >E592K</text>
<text x="118.6" y="190.1" font-size="6.1" fill="#1c1c1c"><tspan font-style="italic">P</tspan> = .000014</text>
<text x="180.30" y="144.60" font-size="10.8" text-anchor="start" font-weight="bold" fill="#0a0a0a" >F</text>
<text x="240.60" y="142.60" font-size="7.8" text-anchor="start" font-weight="normal" fill="#1c1c1c" >Lower IPSS-M (&lt;0)</text>
<line x1="209.20" y1="148.00" x2="209.20" y2="222.67" stroke="#111" stroke-width="1.15"/>
<line x1="208.62" y1="222.10" x2="339.50" y2="222.10" stroke="#111" stroke-width="1.15"/>
<line x1="206.60" y1="222.10" x2="209.20" y2="222.10" stroke="#111" stroke-width="0.8"/>
<line x1="207.70" y1="215.58" x2="209.20" y2="215.58" stroke="#111" stroke-width="0.8"/>
<line x1="207.70" y1="209.06" x2="209.20" y2="209.06" stroke="#111" stroke-width="0.8"/>
<line x1="207.70" y1="202.54" x2="209.20" y2="202.54" stroke="#111" stroke-width="0.8"/>
<line x1="207.70" y1="196.02" x2="209.20" y2="196.02" stroke="#111" stroke-width="0.8"/>
<line x1="206.60" y1="189.50" x2="209.20" y2="189.50" stroke="#111" stroke-width="0.8"/>
<line x1="207.70" y1="182.98" x2="209.20" y2="182.98" stroke="#111" stroke-width="0.8"/>
<line x1="207.70" y1="176.46" x2="209.20" y2="176.46" stroke="#111" stroke-width="0.8"/>
<line x1="207.70" y1="169.94" x2="209.20" y2="169.94" stroke="#111" stroke-width="0.8"/>
<line x1="207.70" y1="163.42" x2="209.20" y2="163.42" stroke="#111" stroke-width="0.8"/>
<line x1="206.60" y1="156.90" x2="209.20" y2="156.90" stroke="#111" stroke-width="0.8"/>
<text x="203.60" y="159.05" font-size="6.1" text-anchor="end" font-weight="normal" fill="#1c1c1c" >100</text>
<text x="203.60" y="191.65" font-size="6.1" text-anchor="end" font-weight="normal" fill="#1c1c1c" >50</text>
<text x="203.60" y="224.25" font-size="6.1" text-anchor="end" font-weight="normal" fill="#1c1c1c" >0</text>
<line x1="209.20" y1="222.10" x2="209.20" y2="224.50" stroke="#111" stroke-width="0.8"/>
<text x="209.20" y="233.40" font-size="6.1" text-anchor="middle" font-weight="normal" fill="#1c1c1c" >0</text>
<line x1="214.75" y1="222.10" x2="214.75" y2="223.50" stroke="#111" stroke-width="0.8"/>
<line x1="220.30" y1="222.10" x2="220.30" y2="223.50" stroke="#111" stroke-width="0.8"/>
<line x1="225.85" y1="222.10" x2="225.85" y2="223.50" stroke="#111" stroke-width="0.8"/>
<line x1="231.40" y1="222.10" x2="231.40" y2="223.50" stroke="#111" stroke-width="0.8"/>
<line x1="236.95" y1="222.10" x2="236.95" y2="224.50" stroke="#111" stroke-width="0.8"/>
<text x="236.95" y="233.40" font-size="6.1" text-anchor="middle" font-weight="normal" fill="#1c1c1c" >5</text>
<line x1="242.50" y1="222.10" x2="242.50" y2="223.50" stroke="#111" stroke-width="0.8"/>
<line x1="248.05" y1="222.10" x2="248.05" y2="223.50" stroke="#111" stroke-width="0.8"/>
<line x1="253.60" y1="222.10" x2="253.60" y2="223.50" stroke="#111" stroke-width="0.8"/>
<line x1="259.15" y1="222.10" x2="259.15" y2="223.50" stroke="#111" stroke-width="0.8"/>
<line x1="264.70" y1="222.10" x2="264.70" y2="224.50" stroke="#111" stroke-width="0.8"/>
<text x="264.70" y="233.40" font-size="6.1" text-anchor="middle" font-weight="normal" fill="#1c1c1c" >10</text>
<line x1="270.25" y1="222.10" x2="270.25" y2="223.50" stroke="#111" stroke-width="0.8"/>
<line x1="275.80" y1="222.10" x2="275.80" y2="223.50" stroke="#111" stroke-width="0.8"/>
<line x1="281.35" y1="222.10" x2="281.35" y2="223.50" stroke="#111" stroke-width="0.8"/>
<line x1="286.90" y1="222.10" x2="286.90" y2="223.50" stroke="#111" stroke-width="0.8"/>
<line x1="292.45" y1="222.10" x2="292.45" y2="224.50" stroke="#111" stroke-width="0.8"/>
<text x="292.45" y="233.40" font-size="6.1" text-anchor="middle" font-weight="normal" fill="#1c1c1c" >15</text>
<line x1="298.00" y1="222.10" x2="298.00" y2="223.50" stroke="#111" stroke-width="0.8"/>
<line x1="303.55" y1="222.10" x2="303.55" y2="223.50" stroke="#111" stroke-width="0.8"/>
<line x1="309.10" y1="222.10" x2="309.10" y2="223.50" stroke="#111" stroke-width="0.8"/>
<line x1="314.65" y1="222.10" x2="314.65" y2="223.50" stroke="#111" stroke-width="0.8"/>
<line x1="320.20" y1="222.10" x2="320.20" y2="224.50" stroke="#111" stroke-width="0.8"/>
<text x="320.20" y="233.40" font-size="6.1" text-anchor="middle" font-weight="normal" fill="#1c1c1c" >20</text>
<line x1="325.75" y1="222.10" x2="325.75" y2="223.50" stroke="#111" stroke-width="0.8"/>
<line x1="331.30" y1="222.10" x2="331.30" y2="223.50" stroke="#111" stroke-width="0.8"/>
<line x1="336.85" y1="222.10" x2="336.85" y2="223.50" stroke="#111" stroke-width="0.8"/>
<text transform="translate(274.50,244.90) scale(0.63,1)" x="0" y="0" font-size="8.3" text-anchor="middle" fill="#1c1c1c" style="stroke-width:0.4px">Years</text>
<text transform="translate(185.00,184.60) rotate(-90) scale(0.79,1)" x="0" y="2.66" font-size="7.4" text-anchor="middle" fill="#1c1c1c" style="stroke-width:0.3px">Overall survival</text>
<path d="M209.20,156.90 H210.03 V157.49 H210.86 V158.07 H211.70 V158.66 H212.53 V159.25 H213.36 V159.83 H214.19 V160.42 H215.03 V161.03 H215.86 V161.68 H216.69 V162.33 H217.52 V162.99 H218.36 V163.64 H219.19 V164.29 H220.02 V164.94 H220.85 V165.59 H221.69 V166.23 H222.52 V166.88 H223.35 V167.53 H224.18 V168.17 H225.02 V168.82 H225.85 V169.46 H226.68 V169.93 H227.51 V170.17 H228.35 V170.42 H229.18 V170.67 H230.01 V170.92 H230.84 V171.31 H231.68 V172.29 H232.51 V173.27 H233.34 V174.27 H234.17 V175.73 H235.01 V177.18 H235.84 V177.90 H236.67 V178.61 H237.50 V179.33 H238.34 V180.05 H239.17 V180.77 H240.00 V181.49 H240.84 V182.21 H241.67 V182.92 H242.50 V183.64 H243.33 V184.36 H244.17 V185.04 H245.00 V185.58 H245.83 V186.12 H246.66 V186.66 H247.50 V187.20 H248.33 V187.73 H249.16 V188.27 H249.99 V188.81 H250.83 V189.35 H251.66 V189.88 H252.49 V190.42 H253.32 V190.96 H254.16 V191.50 H254.99 V192.04 H255.82 V192.59 H256.65 V193.14 H257.49 V193.70 H258.32 V194.25 H259.15 V194.81 H259.98 V195.36 H260.82 V195.92 H261.65 V196.47" stroke="#4a1a5b" stroke-width="1.6" fill="none" />
<path d="M261.65,196.47 H262.48 V197.03 H263.31 V197.58 H264.15 V198.14 H264.98 V198.69 H265.81 V198.90 H266.64 V199.11 H267.48 V199.31 H268.31 V199.52 H269.14 V199.73 H269.97 V199.93 H270.81 V200.14 H271.64 V200.35 H272.47 V200.55 H273.30 V200.76 H274.14 V201.03 H274.97 V201.50 H275.80 V201.97 H276.63 V202.44 H277.47 V202.91 H278.30 V203.38 H279.13 V203.84 H279.96 V203.93 H280.80 V204.02 H281.63 V204.10 H282.46 V204.19 H283.29 V204.28 H284.13 V204.37 H284.96 V204.45 H285.79 V204.54 H286.62 V204.63 H287.46 V204.71 H288.29 V204.80 H289.12 V204.89 H289.95 V205.21 H290.79 V205.52 H291.62 V205.84 H292.45 V206.16 H293.28 V206.48 H294.12 V206.79 H294.95 V207.11 H295.78 V207.43 H296.61 V207.75 H297.45 V208.07 H298.28 V208.29 H299.11 V208.34 H299.94 V208.38 H300.78 V208.43 H301.61 V208.47 H302.44 V208.52 H303.27 V208.56 H304.11 V208.61 H304.94 V208.65 H305.77 V213.23 H306.60 V213.23 H307.44 V213.23 H308.27 V213.23 H309.10 V213.23 H309.93 V213.23 H310.76 V213.23 H311.60 V213.23 H312.43 V213.23 H313.26 V213.23 H314.09 V216.04 H314.93 V216.04 H315.76 V216.04 H316.59 V216.04 H317.42 V216.04 H318.26 V216.04 H319.09 V216.04 H319.92 V216.04 H320.75 V216.04 H321.59 V216.04 H322.42 V216.04 H323.25 V216.04 H324.08 V216.04 H324.92 V216.04 H325.75 V216.04 H326.58 V216.04 H327.41 V216.04 H328.25 V216.04 H329.08 V216.04 H329.91 V216.04 H330.74 V216.04" stroke="#4a1a5b" stroke-width="1.1" fill="none" />
<line x1="259.15" y1="194.25" x2="259.15" y2="192.85" stroke="#4a1a5b" stroke-width="0.6"/>
<line x1="270.25" y1="199.93" x2="270.25" y2="198.53" stroke="#4a1a5b" stroke-width="0.6"/>
<line x1="275.80" y1="201.50" x2="275.80" y2="200.10" stroke="#4a1a5b" stroke-width="0.6"/>
<line x1="284.12" y1="204.28" x2="284.12" y2="202.88" stroke="#4a1a5b" stroke-width="0.6"/>
<line x1="289.67" y1="204.89" x2="289.67" y2="203.49" stroke="#4a1a5b" stroke-width="0.6"/>
<line x1="300.77" y1="208.38" x2="300.77" y2="206.98" stroke="#4a1a5b" stroke-width="0.6"/>
<line x1="320.20" y1="216.04" x2="320.20" y2="214.64" stroke="#4a1a5b" stroke-width="0.6"/>
<line x1="331.30" y1="216.04" x2="331.30" y2="214.64" stroke="#4a1a5b" stroke-width="0.6"/>
<path d="M209.20,156.90 H210.86 V163.42 H212.42 V185.59 H220.52 V197.32 H231.95 V197.32" stroke="#47a6c6" stroke-width="0.9" fill="none" />
<line x1="226.96" y1="197.32" x2="226.96" y2="195.92" stroke="#47a6c6" stroke-width="0.6"/>
<line x1="231.95" y1="197.32" x2="231.95" y2="195.92" stroke="#47a6c6" stroke-width="0.6"/>
<line x1="300.70" y1="158.30" x2="307.90" y2="158.30" stroke="#47a6c6" stroke-width="0.9"/>
<line x1="304.30" y1="158.30" x2="304.30" y2="157.00" stroke="#47a6c6" stroke-width="0.6"/>
<text x="310.30" y="160.65" font-size="6.05" text-anchor="start" font-weight="normal" fill="#1c1c1c" >E592K</text>
<line x1="300.70" y1="166.60" x2="307.90" y2="166.60" stroke="#3d2a48" stroke-width="0.9"/>
<line x1="304.30" y1="166.60" x2="304.30" y2="165.30" stroke="#3d2a48" stroke-width="0.6"/>
<text x="310.30" y="168.95" font-size="6.05" text-anchor="start" font-weight="normal" fill="#1c1c1c" >Ex14-16</text>
<text x="307.9" y="190.1" font-size="6.1" fill="#1c1c1c"><tspan font-style="italic">P</tspan> = .0014</text>
<text x="349.50" y="144.30" font-size="10.8" text-anchor="start" font-weight="bold" fill="#0a0a0a" >G</text>
<text x="413.40" y="141.50" font-size="7.8" text-anchor="start" font-weight="normal" fill="#1c1c1c" >Higher IPSS-M (&gt;0)</text>
<line x1="381.30" y1="148.00" x2="381.30" y2="222.67" stroke="#111" stroke-width="1.15"/>
<line x1="380.73" y1="222.10" x2="513.50" y2="222.10" stroke="#111" stroke-width="1.15"/>
<line x1="378.70" y1="222.10" x2="381.30" y2="222.10" stroke="#111" stroke-width="0.8"/>
<line x1="379.80" y1="215.54" x2="381.30" y2="215.54" stroke="#111" stroke-width="0.8"/>
<line x1="379.80" y1="208.98" x2="381.30" y2="208.98" stroke="#111" stroke-width="0.8"/>
<line x1="379.80" y1="202.42" x2="381.30" y2="202.42" stroke="#111" stroke-width="0.8"/>
<line x1="379.80" y1="195.86" x2="381.30" y2="195.86" stroke="#111" stroke-width="0.8"/>
<line x1="378.70" y1="189.30" x2="381.30" y2="189.30" stroke="#111" stroke-width="0.8"/>
<line x1="379.80" y1="182.74" x2="381.30" y2="182.74" stroke="#111" stroke-width="0.8"/>
<line x1="379.80" y1="176.18" x2="381.30" y2="176.18" stroke="#111" stroke-width="0.8"/>
<line x1="379.80" y1="169.62" x2="381.30" y2="169.62" stroke="#111" stroke-width="0.8"/>
<line x1="379.80" y1="163.06" x2="381.30" y2="163.06" stroke="#111" stroke-width="0.8"/>
<line x1="378.70" y1="156.50" x2="381.30" y2="156.50" stroke="#111" stroke-width="0.8"/>
<text x="375.70" y="158.65" font-size="6.1" text-anchor="end" font-weight="normal" fill="#1c1c1c" >100</text>
<text x="375.70" y="191.45" font-size="6.1" text-anchor="end" font-weight="normal" fill="#1c1c1c" >50</text>
<text x="375.70" y="224.25" font-size="6.1" text-anchor="end" font-weight="normal" fill="#1c1c1c" >0</text>
<line x1="381.30" y1="222.10" x2="381.30" y2="224.50" stroke="#111" stroke-width="0.8"/>
<text x="381.30" y="233.40" font-size="6.1" text-anchor="middle" font-weight="normal" fill="#1c1c1c" >0</text>
<line x1="386.93" y1="222.10" x2="386.93" y2="223.50" stroke="#111" stroke-width="0.8"/>
<line x1="392.56" y1="222.10" x2="392.56" y2="223.50" stroke="#111" stroke-width="0.8"/>
<line x1="398.19" y1="222.10" x2="398.19" y2="223.50" stroke="#111" stroke-width="0.8"/>
<line x1="403.82" y1="222.10" x2="403.82" y2="223.50" stroke="#111" stroke-width="0.8"/>
<line x1="409.45" y1="222.10" x2="409.45" y2="224.50" stroke="#111" stroke-width="0.8"/>
<text x="409.45" y="233.40" font-size="6.1" text-anchor="middle" font-weight="normal" fill="#1c1c1c" >5</text>
<line x1="415.08" y1="222.10" x2="415.08" y2="223.50" stroke="#111" stroke-width="0.8"/>
<line x1="420.71" y1="222.10" x2="420.71" y2="223.50" stroke="#111" stroke-width="0.8"/>
<line x1="426.34" y1="222.10" x2="426.34" y2="223.50" stroke="#111" stroke-width="0.8"/>
<line x1="431.97" y1="222.10" x2="431.97" y2="223.50" stroke="#111" stroke-width="0.8"/>
<line x1="437.60" y1="222.10" x2="437.60" y2="224.50" stroke="#111" stroke-width="0.8"/>
<text x="437.60" y="233.40" font-size="6.1" text-anchor="middle" font-weight="normal" fill="#1c1c1c" >10</text>
<line x1="443.23" y1="222.10" x2="443.23" y2="223.50" stroke="#111" stroke-width="0.8"/>
<line x1="448.86" y1="222.10" x2="448.86" y2="223.50" stroke="#111" stroke-width="0.8"/>
<line x1="454.49" y1="222.10" x2="454.49" y2="223.50" stroke="#111" stroke-width="0.8"/>
<line x1="460.12" y1="222.10" x2="460.12" y2="223.50" stroke="#111" stroke-width="0.8"/>
<line x1="465.75" y1="222.10" x2="465.75" y2="224.50" stroke="#111" stroke-width="0.8"/>
<text x="465.75" y="233.40" font-size="6.1" text-anchor="middle" font-weight="normal" fill="#1c1c1c" >15</text>
<line x1="471.38" y1="222.10" x2="471.38" y2="223.50" stroke="#111" stroke-width="0.8"/>
<line x1="477.01" y1="222.10" x2="477.01" y2="223.50" stroke="#111" stroke-width="0.8"/>
<line x1="482.64" y1="222.10" x2="482.64" y2="223.50" stroke="#111" stroke-width="0.8"/>
<line x1="488.27" y1="222.10" x2="488.27" y2="223.50" stroke="#111" stroke-width="0.8"/>
<line x1="493.90" y1="222.10" x2="493.90" y2="224.50" stroke="#111" stroke-width="0.8"/>
<text x="493.90" y="233.40" font-size="6.1" text-anchor="middle" font-weight="normal" fill="#1c1c1c" >20</text>
<line x1="499.53" y1="222.10" x2="499.53" y2="223.50" stroke="#111" stroke-width="0.8"/>
<line x1="505.16" y1="222.10" x2="505.16" y2="223.50" stroke="#111" stroke-width="0.8"/>
<line x1="510.79" y1="222.10" x2="510.79" y2="223.50" stroke="#111" stroke-width="0.8"/>
<text transform="translate(447.50,244.90) scale(0.63,1)" x="0" y="0" font-size="8.3" text-anchor="middle" fill="#1c1c1c" style="stroke-width:0.4px">Years</text>
<text transform="translate(357.00,184.60) rotate(-90) scale(0.79,1)" x="0" y="2.66" font-size="7.4" text-anchor="middle" fill="#1c1c1c" style="stroke-width:0.3px">Overall survival</text>
<path d="M381.30,156.50 H382.43 V160.19 H383.55 V163.66 H384.68 V165.92 H385.80 V168.18 H386.93 V170.56 H388.06 V174.04 H389.18 V177.53 H390.31 V180.75 H391.43 V182.95 H392.56 V185.14 H393.69 V187.42 H394.81 V190.22 H395.94 V193.02 H397.06 V195.65 H398.19 V197.31 H399.32 V199.09 H400.44 V201.88 H401.57 V204.67 H402.69 V207.06 H403.82 V209.29 H404.95 V211.53 H406.07 V212.90 H407.20 V213.90 H408.32 V213.90 H409.45 V213.90 H410.58 V213.90 H411.70 V213.90 H412.83 V213.90 H413.95 V213.90 H415.08 V213.90 H416.21 V213.90 H417.33 V213.90 H418.46 V213.90 H419.58 V213.90 H420.71 V213.90 H421.84 V213.90 H422.96 V213.90 H424.09 V213.90 H425.21 V213.90 H426.34 V213.90 H427.47 V213.90 H428.59 V213.90 H429.72 V213.90 H430.28 V222.10" stroke="#4a1a5b" stroke-width="1.5" fill="none" />
<line x1="410.58" y1="213.90" x2="410.58" y2="212.50" stroke="#4a1a5b" stroke-width="0.6"/>
<line x1="413.95" y1="213.90" x2="413.95" y2="212.50" stroke="#4a1a5b" stroke-width="0.6"/>
<line x1="417.33" y1="213.90" x2="417.33" y2="212.50" stroke="#4a1a5b" stroke-width="0.6"/>
<line x1="420.71" y1="213.90" x2="420.71" y2="212.50" stroke="#4a1a5b" stroke-width="0.6"/>
<path d="M381.30,156.50 H382.14 V159.78 H382.99 V163.06 H384.40 V166.34 H385.80 V169.62 H386.93 V172.90 H388.62 V178.48 H390.31 V182.08 H391.77 V191.92 H394.81 V193.24 H396.90 V198.81 H399.32 V202.42 H401.00 V206.49 H418.46 V206.49" stroke="#47a6c6" stroke-width="0.9" fill="none" />
<line x1="406.63" y1="206.49" x2="406.63" y2="205.09" stroke="#47a6c6" stroke-width="0.6"/>
<line x1="412.26" y1="206.49" x2="412.26" y2="205.09" stroke="#47a6c6" stroke-width="0.6"/>
<line x1="418.46" y1="206.49" x2="418.46" y2="205.09" stroke="#47a6c6" stroke-width="0.6"/>
<line x1="464.30" y1="159.10" x2="471.50" y2="159.10" stroke="#47a6c6" stroke-width="0.9"/>
<line x1="467.90" y1="159.10" x2="467.90" y2="157.80" stroke="#47a6c6" stroke-width="0.6"/>
<text x="473.90" y="161.15" font-size="6.05" text-anchor="start" font-weight="normal" fill="#1c1c1c" >E592K</text>
<line x1="464.30" y1="167.40" x2="471.50" y2="167.40" stroke="#3d2a48" stroke-width="0.9"/>
<line x1="467.90" y1="167.40" x2="467.90" y2="166.10" stroke="#3d2a48" stroke-width="0.6"/>
<text x="473.90" y="169.55" font-size="6.05" text-anchor="start" font-weight="normal" fill="#1c1c1c" >Ex14-16</text>
<text x="477.2" y="190.2" font-size="6.1" fill="#1c1c1c"><tspan font-style="italic">P</tspan> = .8930</text>
</svg>
<div class="bd"></div>
</body></html>
